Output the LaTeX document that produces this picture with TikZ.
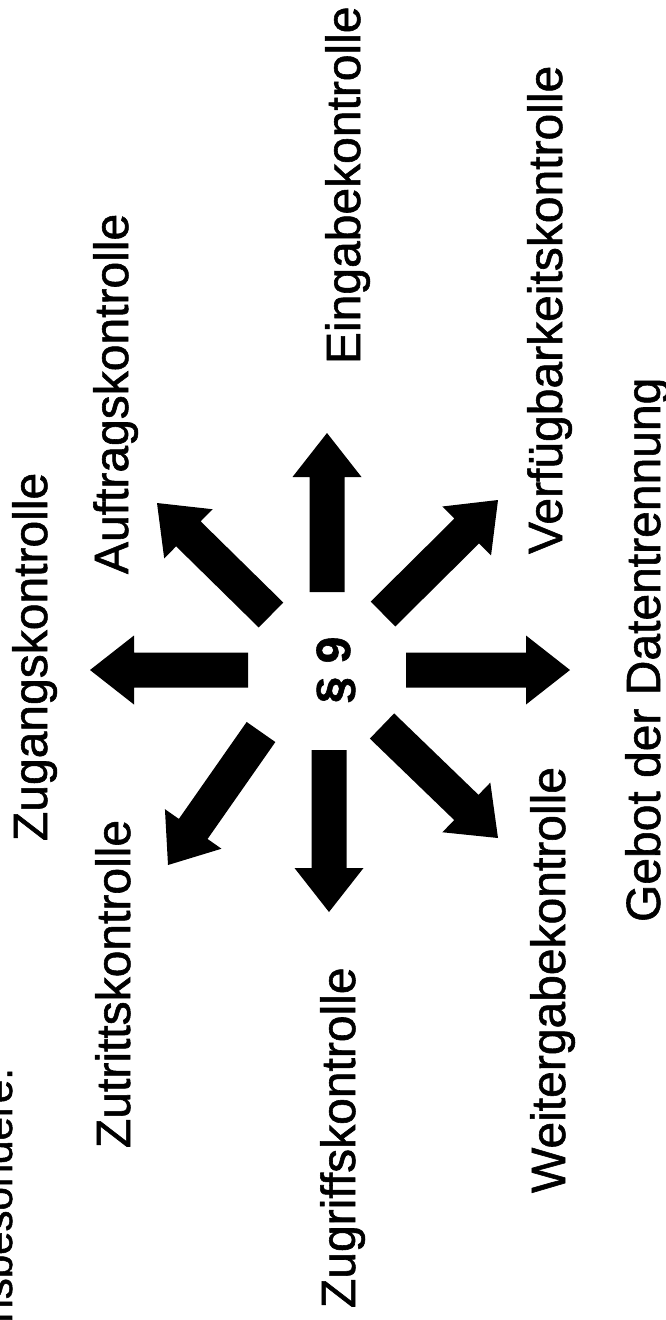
\documentclass[tikz,border=0pt]{standalone}
\usepackage{fontspec}
\setmainfont{Liberation Sans}[RawFeature={embolden=1.2}]
\usetikzlibrary{calc}
\newcommand\blockarrow[2]{%
  \coordinate (#1-h) at ($(#2)!44pt!(#1)$);
  \fill[arrowfill] ($(#1)!17.5pt!90:(#2)$) -- ($(#1-h)!17.5pt!-90:(#1)$) -- ($(#1-h)!34.5pt!-90:(#1)$) -- (#2)
    -- ($(#1-h)!34.5pt!90:(#1)$) -- ($(#1-h)!17.5pt!90:(#1)$) -- ($(#1)!17.5pt!-90:(#2)$) -- cycle;}
\begin{document}
\begin{tikzpicture}[x=1pt,y=-1pt,
  lbl/.style={rotate=90,inner sep=0pt,outer sep=0pt,font=\fontsize{48}{58}\selectfont,anchor=base west},
  arrowfill/.style={fill=black}]
\useasboundingbox (0,0) rectangle (666,1320);
\clip (0,0) rectangle (666,1320);
\fill[white] (0,0) rectangle (666,1320);
% heading (cut off at the left edge)
\node[lbl,font=\fontsize{42}{50}\selectfont,anchor=base east] (head) at (12,1068) {insbesondere:};
% centre
\node[lbl,anchor=base,font=\fontsize{48}{58}\selectfont\bfseries] (par) at (350,670) {§ 9};
% labels
\node[lbl] (zugang) at (47,841) {Zugangskontrolle};
\node[lbl] (zutritt) at (130,1148) {Zutrittskontrolle};
\node[lbl] (zugriff) at (355,1308) {Zugriffskontrolle};
\node[lbl] (auftrag) at (128,574) {Auftragskontrolle};
\node[lbl] (eingabe) at (360,364) {Eingabekontrolle};
\node[lbl] (verf) at (562,554) {Verfügbarkeitskontrolle};
\node[lbl] (weiter) at (565,1193) {Weitergabekontrolle};
\node[lbl] (gebot) at (660,922) {Gebot der Datentrennung};
% arrows
\coordinate (upA) at (327,592);  \coordinate (upB) at (327,433);
\coordinate (dnA) at (329,750);  \coordinate (dnB) at (329,912);
\coordinate (lfA) at (248,670);  \coordinate (lfB) at (90,670);
\coordinate (rtA) at (406,670);  \coordinate (rtB) at (570,670);
\coordinate (ulA) at (271,615);  \coordinate (ulB) at (157,503);
\coordinate (urA) at (383,614);  \coordinate (urB) at (498,500);
\coordinate (drA) at (382,726);  \coordinate (drB) at (498,838);
\coordinate (dlA) at (261,732);  \coordinate (dlB) at (168,865);
\blockarrow{upA}{upB}
\blockarrow{dnA}{dnB}
\blockarrow{lfA}{lfB}
\blockarrow{rtA}{rtB}
\blockarrow{ulA}{ulB}
\blockarrow{urA}{urB}
\blockarrow{drA}{drB}
\blockarrow{dlA}{dlB}
\end{tikzpicture}
\end{document}
